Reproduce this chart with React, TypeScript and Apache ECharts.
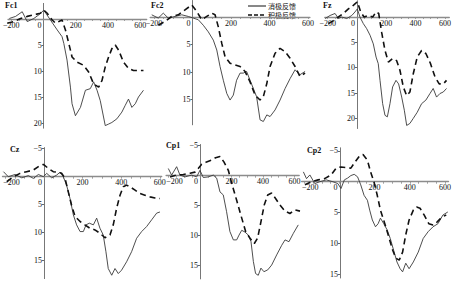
import { useEffect, useRef } from "react";
import * as echarts from "echarts";

const panelNames = ["Fc1", "Fc2", "Fz", "Cz", "Cp1", "Cp2"];
const legendNames = ["消极反馈", "积极反馈"];
const xTickLabels = [-200, 0, 200, 400, 600];
const xMinorTicks = [-200, -150, -100, -50, 0, 50, 100, 150, 200, 250, 300, 350, 400, 450, 500, 550, 600];
const topYTicks = [5, 10, 15, 20];
const fc2YTicks = [5, 10, 15];
const bottomYTicks = [-5, 5, 10, 15];

// negative feedback (solid) / positive feedback (dashed), [ms, µV]
const fc1Neg = [[-212,-0.1],[-173,-0.5],[-132,-1.4],[-101,0.5],[-60,-0.1],[-29,-0.8],[2,-1.7],[43,0.2],[85,2.1],[115,3.4],[126,4.7],[146,7.9],[167,13.1],[177,16.3],[198,18.6],[229,17],[260,13.7],[290,13.4],[311,12.1],[332,13.7],[352,15.7],[383,20.5],[404,20.2],[424,19.9],[455,19.2],[486,17.9],[507,16.6],[527,15.4],[548,17],[569,16.3],[589,15],[620,13.7]];
const fc1Pos = [[-225,0.8],[-183,0.5],[-142,-0.1],[-101,-0.5],[-60,-0.8],[-19,-1.1],[2,-1.7],[23,-1.1],[54,0.2],[74,0.8],[95,0.5],[115,0.2],[136,2.1],[157,4.7],[177,7.3],[208,8.3],[249,8.9],[280,10.2],[311,12.5],[342,13.1],[363,11.8],[383,9.2],[404,7.3],[424,5.7],[445,5],[466,6],[496,8.3],[527,9.5],[558,9.9],[620,9.9]];
const fc2Neg = [[-212,-0.4],[-178,0.2],[-152,-0.7],[-126,0.2],[-91,-0.1],[-56,-0.4],[-22,-0.1],[4,0.2],[30,0.5],[56,1.5],[82,2.7],[108,4.2],[126,6],[143,9],[160,11.5],[178,13.9],[195,15.1],[212,14.2],[229,11.5],[247,10.2],[264,10.2],[281,9.9],[299,11.5],[316,13],[333,14.5],[351,18.7],[368,19],[386,17.8],[403,18.1],[429,16.9],[455,15.1],[481,13],[507,11.2],[533,9.6],[558,10.5],[585,9.9]];
const fc2Pos = [[-178,1.5],[-143,0.8],[-108,-0.1],[-74,-0.4],[-39,-1.3],[-4,-2.2],[22,-1],[48,0.5],[74,-0.1],[100,-0.7],[117,-0.4],[134,1.8],[152,4.8],[169,7.2],[195,8.4],[221,8.7],[247,9],[273,9.9],[299,11.8],[325,14.2],[351,15.1],[368,14.5],[386,12.1],[403,9],[429,6.6],[455,5.7],[481,6.3],[507,7.5],[533,9],[558,10.8],[585,10.2]];
const fzNeg = [[-218,0.3],[-184,-0.3],[-150,-0.7],[-127,0.3],[-105,0],[-70,0.3],[-36,-0.3],[-14,-1],[2,-1.6],[20,0],[43,1.3],[66,2.3],[89,3.6],[111,5.3],[130,7.9],[145,9.2],[157,12.5],[175,17.1],[191,19.4],[207,19.7],[225,17.1],[243,13.8],[266,12.5],[284,13.2],[305,15.8],[323,18.4],[339,21.4],[361,21],[384,20],[411,18.8],[441,17.1],[470,16.4],[498,15.1],[520,14.1],[543,15.8],[566,15.1],[589,14.8],[611,14.1]];
const fzPos = [[-195,1.3],[-161,0.7],[-127,0],[-93,-0.7],[-59,-1.6],[-36,-2],[-14,-2.6],[2,-3],[25,-1],[48,0],[77,-0.3],[107,0],[130,-1],[148,-0.7],[168,3],[191,6.6],[214,8.9],[243,8.2],[270,8.6],[293,10.5],[316,13.8],[339,15.5],[361,14.8],[384,11.2],[411,7.9],[441,6.6],[470,7.2],[502,9.2],[532,11.8],[561,13.2],[589,13.2],[611,12.5]];
const czNeg = [[-210,-0.9],[-185,0],[-150,-0.4],[-115,0.2],[-81,-0.2],[-55,0.3],[-29,-0.4],[-3,0],[14,-0.6],[40,0.2],[66,-0.3],[83,-0.8],[100,0],[117,1.5],[135,3.9],[152,6.8],[169,8.6],[187,9.8],[204,9.8],[218,8.6],[235,8.3],[256,8.6],[273,7.4],[290,9.2],[307,10.4],[321,13.4],[333,16.4],[351,17.6],[368,16.4],[385,17.3],[402,16.7],[428,15.2],[454,13.4],[480,11],[506,9.8],[532,8.9],[558,7.7],[584,6.5],[601,6.3]];
const czPos = [[-193,0.9],[-159,0],[-124,-0.6],[-90,-0.9],[-55,-1.2],[-29,-1.8],[-3,-2.2],[22,-1.5],[48,-0.9],[74,-0.8],[92,-0.6],[109,0.3],[126,2.7],[143,5.1],[161,7.1],[187,8],[212,8.6],[238,9.2],[264,9.5],[290,10.1],[316,10.9],[342,10.4],[359,8.6],[376,5.7],[394,3.3],[411,1.8],[428,1.5],[446,1.8],[472,2.4],[497,3],[523,3.3],[549,3.6],[575,3.8],[601,3.9]];
const cp1Neg = [[-201,-1.2],[-180,-0.1],[-148,-1.5],[-127,-0.1],[-95,0.2],[-53,-0.1],[-21,0.2],[0,-0.9],[21,0.3],[53,0.2],[85,-0.1],[106,0.4],[127,2.7],[148,3.2],[169,6],[190,9.3],[212,10.7],[233,10.7],[248,9.9],[265,9.1],[286,9.4],[307,9.9],[324,11],[339,14.3],[353,16.3],[370,16.6],[387,15.4],[406,16],[430,15.7],[455,14.9],[487,13.2],[519,11.6],[540,10.7],[565,11],[593,9.6],[624,8.2]];
const cp1Pos = [[-190,0.2],[-148,-0.1],[-106,-0.2],[-63,-0.4],[-32,-0.6],[-11,-1.2],[11,-1.9],[42,-2.3],[74,-2.6],[99,-3],[127,-3.2],[152,-2.3],[180,-0.9],[205,1.6],[233,4.1],[260,6.6],[290,9.3],[317,10.4],[345,11.3],[366,10.4],[387,7.7],[408,4.9],[430,3.2],[455,2.9],[480,3.8],[508,4.9],[540,5.9],[571,6.3],[603,5.7],[635,5.9]];
const cp2Neg = [[-205,-1.6],[-187,-0.5],[-168,-1.1],[-140,0.3],[-112,0],[-75,-0.3],[-37,0],[-9,0.3],[9,1.1],[28,-0.3],[47,-0.6],[65,-1],[84,-1.2],[103,-0.8],[121,0.5],[140,2.2],[159,3],[172,4.6],[187,6.2],[205,7.3],[220,6.8],[233,5.9],[252,6.8],[271,7.8],[289,9.2],[308,11.1],[327,13],[345,14.1],[359,14.6],[377,13.2],[396,14.1],[420,13],[448,11.4],[476,9.2],[504,8.1],[532,7.3],[560,6.8],[588,5.4],[616,4.9]];
const cp2Pos = [[-196,0.5],[-159,0],[-121,-0.3],[-84,-0.5],[-47,-1.1],[-19,-2.2],[9,-2.4],[37,-2.3],[65,-2.2],[84,-3],[112,-4.1],[134,-4.4],[159,-3.5],[177,-1.6],[196,0],[215,2.2],[233,4.6],[258,6.8],[280,8.9],[303,11.1],[321,12.4],[340,12.7],[359,11.4],[377,8.6],[396,6.2],[420,4.6],[439,4.1],[458,4.3],[482,5.4],[508,6.8],[532,7],[556,6.5],[583,5.7],[607,5.4]];

const negSeries = [fc1Neg, fc2Neg, fzNeg, czNeg, cp1Neg, cp2Neg];
const posSeries = [fc1Pos, fc2Pos, fzPos, czPos, cp1Pos, cp2Pos];
const yTickSets = [topYTicks, fc2YTicks, topYTicks, bottomYTicks, bottomYTicks, bottomYTicks];

// layout: grid box in px and axis ranges
const layout = [
  { left: 7.4, top: 3.4, width: 139.3, height: 124.8, xMin: -220, xMax: 640, yMin: -3, yMax: 21, lx: 5, ly: 5, shiftNeg: false },
  { left: 150.2, top: 0.5, width: 159.7, height: 124.3, xMin: -220, xMax: 610, yMin: -3, yMax: 19.6, lx: 151, ly: 5, shiftNeg: false },
  { left: 324.8, top: 0.8, width: 124.5, height: 127.7, xMin: -220, xMax: 630, yMin: -3.2, yMax: 22, lx: 323, ly: 5, shiftNeg: false },
  { left: 2.5, top: 147.6, width: 159.2, height: 131, xMin: -215, xMax: 610, yMin: -5.2, yMax: 18.2, lx: 10, ly: 149, shiftNeg: true },
  { left: 166.1, top: 144.5, width: 133.1, height: 134.4, xMin: -215, xMax: 630, yMin: -5.2, yMax: 17.2, lx: 166, ly: 145, shiftNeg: true },
  { left: 301.6, top: 147.8, width: 149.1, height: 130.2, xMin: -215, xMax: 620, yMin: -5.5, yMax: 15.6, lx: 307, ly: 150, shiftNeg: true },
];

const SERIF = "'Liberation Serif', 'DejaVu Serif', serif";
const FS = 8;
const fmt = (v: number) => (v < 0 ? "\u2212" + Math.abs(v) : v === 0 ? "{z|0}" : String(v));
const fmtShift = (v: number) => (v < 0 ? "{n|\u2212" + Math.abs(v) + "}" : v === 0 ? "{z|0}" : String(v));

export default function App() {
  const ref = useRef<HTMLDivElement>(null);
  useEffect(() => {
    document.body.style.margin = "0";
    if (!ref.current) return;
    const chart = echarts.init(ref.current, undefined, { renderer: "svg" });
    const grids = layout.map((l) => ({ left: l.left, top: l.top, width: l.width, height: l.height, containLabel: false }));
    const xAxes = layout.map((l, i) => {
      const zeroY = l.top + ((0 - l.yMin) / (l.yMax - l.yMin)) * l.height;
      return {
        gridIndex: i,
        type: "value",
        position: "bottom",
        offset: zeroY - (l.top + l.height),
        min: l.xMin,
        max: l.xMax,
        axisLine: { show: true, onZero: false, lineStyle: { color: "#8c8c8c", width: 1.3 } },
        axisTick: { show: true, customValues: xMinorTicks, length: 2, lineStyle: { color: "#8c8c8c", width: 0.8 } },
        axisLabel: {
          customValues: xTickLabels,
          formatter: l.shiftNeg ? fmtShift : fmt,
          color: "#111",
          fontFamily: SERIF,
          fontSize: FS,
          margin: 2,
          rich: {
            z: { padding: [0, 8, 0, 0], fontFamily: SERIF, fontSize: FS, color: "#111" },
            n: { padding: [0, 0, 0, 12], fontFamily: SERIF, fontSize: FS, color: "#111" },
          },
        },
        splitLine: { show: false },
      };
    });
    const yAxes = layout.map((l, i) => {
      const zeroX = l.left + ((0 - l.xMin) / (l.xMax - l.xMin)) * l.width;
      return {
        gridIndex: i,
        type: "value",
        inverse: true,
        position: "left",
        offset: l.left - zeroX,
        min: l.yMin,
        max: l.yMax,
        axisLine: { show: true, onZero: false, lineStyle: { color: "#777", width: 1 } },
        axisTick: { show: true, customValues: yTickSets[i], length: 2, lineStyle: { color: "#666" } },
        axisLabel: { customValues: yTickSets[i], formatter: fmt, color: "#111", fontFamily: SERIF, fontSize: FS, margin: 2 },
        splitLine: { show: false },
      };
    });
    const series: any[] = [];
    layout.forEach((_, i) => {
      series.push({
        name: legendNames[0], type: "line", xAxisIndex: i, yAxisIndex: i, data: negSeries[i],
        symbol: "none", silent: true, z: 3,
        lineStyle: { color: "#3a3a3a", width: 0.9, type: "solid" },
      });
      series.push({
        name: legendNames[1], type: "line", xAxisIndex: i, yAxisIndex: i, data: posSeries[i],
        symbol: "none", silent: true, z: 4,
        lineStyle: { color: "#111", width: 1.6, type: [6, 4] },
      });
    });
    const graphic: any[] = layout.map((l, i) => ({
      type: "text", left: l.lx, top: l.ly - 4,
      style: { text: panelNames[i], font: `bold 8px ${SERIF}`, fill: "#111" },
    }));
    graphic.push(
      { type: "line", shape: { x1: 248, y1: 6, x2: 266, y2: 6 }, style: { stroke: "#111", lineWidth: 1 } },
      { type: "line", shape: { x1: 248, y1: 15, x2: 266, y2: 15 }, style: { stroke: "#111", lineWidth: 1.4, lineDash: [4, 2] } },
      { type: "text", x: 268, y: 6, style: { text: legendNames[0], font: "7px 'Noto Sans CJK SC'", fill: "#111", verticalAlign: "middle" } },
      { type: "text", x: 268, y: 15, style: { text: legendNames[1], font: "7px 'Noto Sans CJK SC'", fill: "#111", verticalAlign: "middle" } },
    );
    chart.setOption({
      animation: false,
      backgroundColor: "#fff",
      grid: grids,
      xAxis: xAxes,
      yAxis: yAxes,
      series,
      graphic,
    });
    return () => chart.dispose();
  }, []);
  return <div ref={ref} style={{ width: 454, height: 285 }} />;
}
